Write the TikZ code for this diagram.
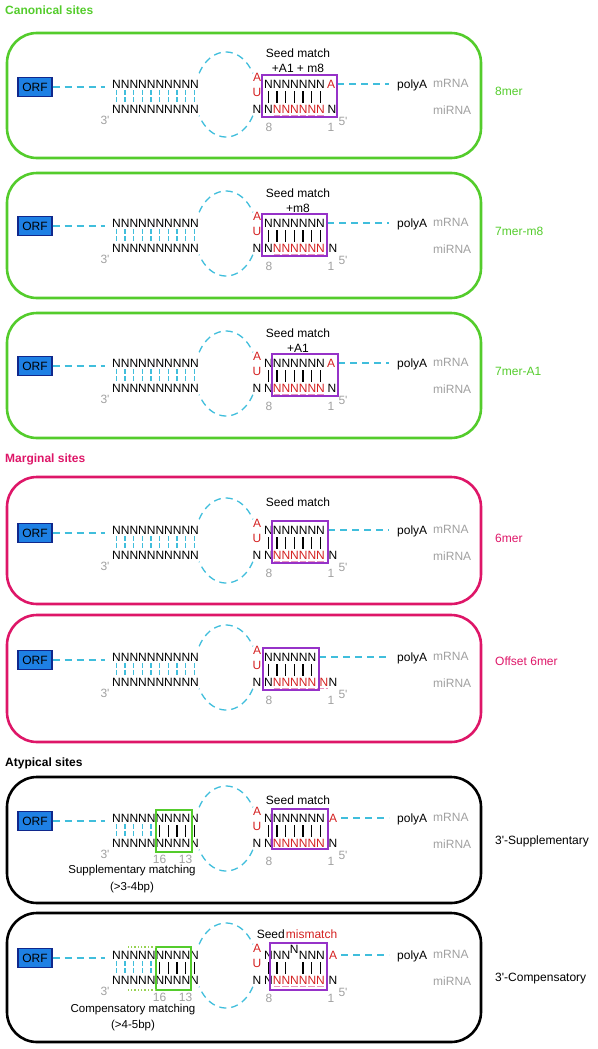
\documentclass[tikz,border=0pt]{standalone}
\usepackage{fontspec}
\setmainfont{Liberation Sans}
\usetikzlibrary{positioning}

\definecolor{cgreen}{RGB}{84,204,44}
\definecolor{cpink}{RGB}{222,22,104}
\definecolor{cpurple}{RGB}{150,50,200}
\definecolor{ccyan}{RGB}{64,190,220}
\definecolor{cred}{RGB}{212,32,32}
\definecolor{cgrey}{RGB}{160,160,160}
\definecolor{cunder}{RGB}{232,150,190}
\definecolor{orffill}{RGB}{30,128,228}
\definecolor{orfedge}{RGB}{16,40,140}
\definecolor{cdot}{RGB}{150,210,80}

\tikzset{
  declare function={lx(\k)=116.3+8.67*\k; sx(\k)=268.3+8.67*\k;},
  txt/.style={inner sep=0pt, font=\fontsize{12}{14}\selectfont, anchor=base, yshift=-4.3pt},
  txtw/.style={txt, anchor=base west},
  small/.style={txt, font=\fontsize{11.5}{13}\selectfont},
  num/.style={txt, text=cgrey},
  title/.style={txtw, font=\fontsize{12}{14}\selectfont\bfseries},
  panel/.style={rounded corners=30pt, line width=2.6pt},
  orf/.style={draw=orfedge, fill=orffill, line width=1.3pt, minimum width=34pt,
    minimum height=19pt, inner sep=0pt, font=\fontsize{12}{14}\selectfont},
  cydash/.style={ccyan, line width=1.3pt, dash pattern=on 7pt off 5pt},
  cybar/.style={ccyan, line width=1.2pt, dash pattern=on 5pt off 2pt},
  bkbar/.style={line width=1.1pt},
  seedbox/.style={cpurple, line width=1.6pt},
  suppbox/.style={cgreen, line width=1.4pt},
  dotbox/.style={cdot, line width=1.4pt, dotted},
  under/.style={cunder, line width=1pt, dash pattern=on 6.67pt off 2pt},
}

\begin{document}
\begin{tikzpicture}[x=1pt, y=-1pt]
\useasboundingbox (0,0) rectangle (597,1049);

\node[title, text=cgreen] (tcan) at (5,10) {Canonical sites};
\node[title, text=cpink] (tmar) at (5,458) {Marginal sites};
\node[title] (tatyp) at (5,762) {Atypical sites};

% parts shared by every site
\foreach \p/\T/\ptop/\pbot/\pcol/\site/\se/\sy in {
  1/84/-51/74/cgreen/8mer/337/7,
  2/223/-50/75/cgreen/7mer-m8/327/8,
  3/363/-50/75/cgreen/7mer-A1/338/8,
  4/530/-53/74/cpink/6mer/328/8,
  5/657/-42/85/cpink/Offset 6mer/319/4,
  6/818/-41/85/black/3\textquotesingle-Supplementary/341/22,
  7/955/-42/87/black/3\textquotesingle-Compensatory/341/22}{
\begin{scope}[shift={(0,\T)}]
  \draw[panel, draw=\pcol] (7,\ptop) rectangle (481,\pbot);
  \node[orf] (orf\p) at (35,3) {ORF};
  \node[txtw] (mtop\p) at (112,0) {NNNNNNNNNN};
  \node[txtw] (mbot\p) at (112,25) {NNNNNNNNNN};
  \draw[cydash, shorten >=7pt] (orf\p.east) -- (orf\p.east -| mtop\p.west);
  \foreach \k in {0,...,4} \draw[cybar] ({lx(\k)},6) -- ({lx(\k)},18);
  \ifnum\p<6
    \foreach \k in {5,...,9} \draw[cybar] ({lx(\k)},6) -- ({lx(\k)},18);
  \else
    \foreach \k in {5,...,9} \draw[bkbar] ({lx(\k)},7) -- ({lx(\k)},19);
  \fi
  \node[num] (tp\p) at (105,36) {3\textquotesingle};
  \draw[cydash] (226,10.5) ++(30:31 and 42.5) arc[start angle=30, end angle=150, x radius=31, y radius=42.5];
  \draw[cydash] (226,10.5) ++(210:31 and 42.5) arc[start angle=210, end angle=330, x radius=31, y radius=42.5];
  \node[txt, text=cred] (au\p) at (257,-7) {A};
  \node[txt, text=cred] (uu\p) at (257,8) {U};
  \node[txt] (nl\p) at (257,25) {N};
  \node[num] (eight\p) at (269,43) {8};
  \node[num] (one\p) at (331,43) {1};
  \node[num] (five\p) at (343,37) {5\textquotesingle};
  \node[txtw] (polyA\p) at (397,0) {polyA};
  \node[txtw, text=cgrey] (mrna\p) at (433,-1) {mRNA};
  \node[txtw, text=cgrey] (mirna\p) at (433,26) {miRNA};
  \node[txtw, text=\pcol] (site\p) at (495,\sy) {\site};
  \coordinate (se\p) at (\se,0);
  \draw[cydash, shorten >=8pt] (se\p) -- (se\p -| polyA\p.west);
\end{scope}
}

% 8mer
\begin{scope}[shift={(0,84)}]
  \node[txtw] (stop1) at (264,0) {NNNNNNN};
  \node[txt, text=cred] (aone1) at (331,0) {A};
  \node[txtw] (sbot1) at (264,25) {N\textcolor{cred}{NNNNNN}};
  \node[txt] (nend1) at (332,25) {N};
  \foreach \k in {0,...,6} \draw[bkbar] ({sx(\k)},7) -- ({sx(\k)},19);
  \draw[under] ({sx(1)-3.33},31) -- ({sx(6)+4.33},31);
  \draw[seedbox] (262,-9) rectangle (337,33);
  \node[txt] (seed1) at (298,-31) {Seed match};
  \node[txt] (plus1) at (298,-16) {+A1 + m8};
\end{scope}

% 7mer-m8
\begin{scope}[shift={(0,223)}]
  \node[txtw] (stop2) at (264,0) {NNNNNNN};
  \node[txtw] (sbot2) at (264,25) {N\textcolor{cred}{NNNNNN}};
  \node[txt] (nend2) at (333,25) {N};
  \foreach \k in {0,...,6} \draw[bkbar] ({sx(\k)},7) -- ({sx(\k)},19);
  \draw[under] ({sx(1)-3.33},31) -- ({sx(6)+4.33},31);
  \draw[seedbox] (262,-9) rectangle (327,33);
  \node[txt] (seed2) at (298,-30) {Seed match};
  \node[txt] (plus2) at (298,-15) {+m8};
\end{scope}

% 7mer-A1
\begin{scope}[shift={(0,363)}]
  \node[txtw] (stop3) at (264,0) {NNNNNNN};
  \node[txt, text=cred] (aone3) at (331,0) {A};
  \node[txtw] (sbot3) at (264,25) {N\textcolor{cred}{NNNNNN}};
  \node[txt] (nend3) at (332,25) {N};
  \foreach \k in {0,...,6} \draw[bkbar] ({sx(\k)},7) -- ({sx(\k)},19);
  \draw[under] ({sx(1)-3.33},31) -- ({sx(6)+4.33},31);
  \draw[seedbox] (272,-9) rectangle (338,33);
  \node[txt] (seed3) at (298,-30) {Seed match};
  \node[txt] (plus3) at (298,-15) {+A1};
\end{scope}

% 6mer
\begin{scope}[shift={(0,530)}]
  \node[txtw] (stop4) at (264,0) {NNNNNNN};
  \node[txtw] (sbot4) at (264,25) {N\textcolor{cred}{NNNNNN}};
  \node[txt] (nend4) at (333,25) {N};
  \foreach \k in {0,...,6} \draw[bkbar] ({sx(\k)},7) -- ({sx(\k)},19);
  \draw[under] ({sx(1)-3.33},31) -- ({sx(6)+4.33},31);
  \draw[seedbox] (272,-9) rectangle (328,33);
  \node[txt] (seed4) at (298,-28) {Seed match};
\end{scope}

% offset 6mer
\begin{scope}[shift={(0,657)}]
  \node[txtw] (stop5) at (264,0) {NNNNNN};
  \node[txtw] (sbot5) at (264,25) {N\textcolor{cred}{NNNNN}};
  \node[txt, text=cred] (nred5) at (324,25) {N};
  \node[txt] (nend5) at (333,25) {N};
  \foreach \k in {0,...,5} \draw[bkbar] ({sx(\k)},7) -- ({sx(\k)},19);
  \draw[under] ({sx(1)-3.33},31) -- (328,31);
  \draw[seedbox] (263,-9) rectangle (319,33);
\end{scope}

% 3'-supplementary
\begin{scope}[shift={(0,818)}]
  \node[txtw] (stop6) at (264,0) {NNNNNNN};
  \node[txt, text=cred] (aone6) at (333,0) {A};
  \node[txtw] (sbot6) at (264,25) {N\textcolor{cred}{NNNNNN}};
  \node[txt] (nend6) at (333,25) {N};
  \foreach \k in {0,...,6} \draw[bkbar] ({sx(\k)},7) -- ({sx(\k)},19);
  \draw[under] ({sx(1)-3.33},31) -- ({sx(6)+4.33},31);
  \draw[seedbox] (272,-9) rectangle (328,31);
  \node[txt] (seed6) at (298,-18) {Seed match};
  \draw[suppbox] (156,-8) rectangle (192,34);
  \node[num] (sixteen6) at ({lx(5)},41) {16};
  \node[num] (thirteen6) at ({lx(8)},41) {13};
  \node[small] (supp6) at (132,51) {Supplementary matching};
  \node[small] (bp6) at (132,68) {(>3-4bp)};
\end{scope}

% 3'-compensatory
\begin{scope}[shift={(0,955)}]
  \node[txtw] (stop7) at (264,0) {NNN};
  \node[txt] (nup7) at ({sx(3)},-6) {N};
  \node[txtw] (stopb7) at ({sx(4)-4.33},0) {NNN};
  \node[txt, text=cred] (aone7) at (333,0) {A};
  \node[txtw] (sbot7) at (264,25) {N\textcolor{cred}{NNNNNN}};
  \node[txt] (nend7) at (333,25) {N};
  \foreach \k in {0,1,2,4,5,6} \draw[bkbar] ({sx(\k)},7) -- ({sx(\k)},19);
  \draw[under] ({sx(1)-3.33},31) -- ({sx(6)+4.33},31);
  \draw[seedbox] (270,-12) rectangle (327,35);
  \node[txt] (seed7) at (297,-21) {Seed\kern1pt\textcolor{cred}{mismatch}};
  \draw[suppbox] (156,-8) rectangle (191,35);
  \draw[dotbox] (156,-8) -- (128,-8);
  \draw[dotbox] (156,35) -- (128,35);
  \node[num] (sixteen7) at ({lx(5)},42) {16};
  \node[num] (thirteen7) at ({lx(8)},42) {13};
  \node[small] (comp7) at (133,53) {Compensatory matching};
  \node[small] (bp7) at (133,69) {(>4-5bp)};
\end{scope}
\end{tikzpicture}
\end{document}
